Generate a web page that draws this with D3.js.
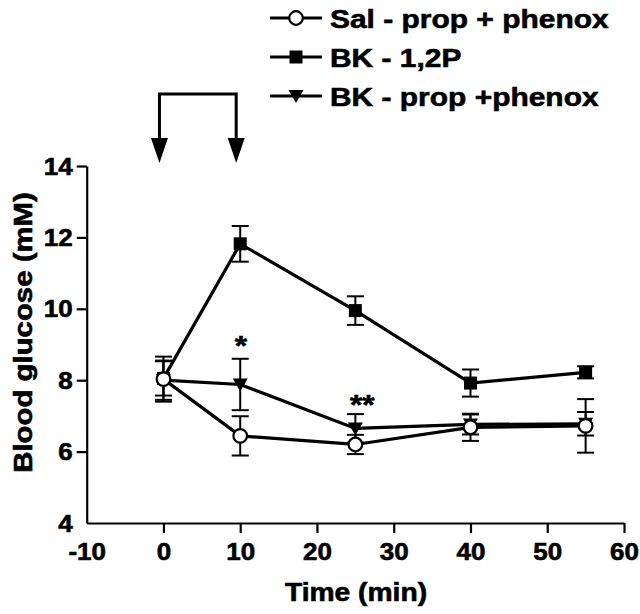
<!DOCTYPE html>
<html><head><meta charset="utf-8">
<script src="https://cdn.jsdelivr.net/npm/d3@7"></script>
<style>body{margin:0;background:#fff}svg{display:block}text{font-family:"Liberation Sans",Arial,sans-serif;font-weight:bold;fill:#000;stroke:#000;stroke-width:0.6px}</style>
</head><body>
<script>
const times = [0, 10, 25, 40, 55];
const salMean = [8.03, 6.44, 6.2, 6.68, 6.72];
const salErr  = [0.63, 0.55, 0.27, 0.38, 0.75];
const bk12Mean = [8.05, 11.82, 9.95, 7.92, 8.22];
const bk12Err  = [0.48, 0.5, 0.4, 0.38, 0.17];
const bkpMean = [8.0, 7.88, 6.65, 6.76, 6.78];
const bkpErr  = [0.55, 0.72, 0.4, 0.28, 0.33];
const seriesNames = ["Sal - prop + phenox", "BK - 1,2P", "BK - prop +phenox"];
const xTicks = [-10, 0, 10, 20, 30, 40, 50, 60];
const yTicks = [4, 6, 8, 10, 12, 14];
const arrowTimes = [0, 10];
const stars = [{t:10.1, v:8.70, s:"*"}, {t:25.9, v:7.05, s:"**"}];

const W = 640, H = 614, SX = 1.13;
const svg = d3.select("body").append("svg").attr("width", W).attr("height", H);
const x = d3.scaleLinear().domain([-10, 60]).range([86.7, 624]);
const y = d3.scaleLinear().domain([4, 14]).range([523, 166]);

function label(g, px, py, txt, size, anchor, rot) {
  return g.append("text")
    .attr("transform", `translate(${px},${py})` + (rot ? ` rotate(${rot})` : "") + ` scale(${SX},1)`)
    .attr("text-anchor", anchor).style("font-size", size + "px").text(txt);
}

// axes
const xAxis = svg.append("g").attr("transform", `translate(0,${y(4)})`)
  .call(d3.axisBottom(x).tickValues(xTicks).tickFormat(d => String(d)).tickSize(10).tickSizeOuter(0));
const yAxis = svg.append("g").attr("transform", `translate(${x(-10)},0)`)
  .call(d3.axisLeft(y).tickValues(yTicks).tickFormat(d => String(d)).tickSize(10).tickSizeOuter(0));
[xAxis, yAxis].forEach(a => {
  a.select(".domain").attr("stroke", "#000").attr("stroke-width", 2.2);
  a.selectAll(".tick line").attr("stroke", "#000").attr("stroke-width", 2.2);
  a.selectAll(".tick text").remove();
});
xAxis.selectAll(".tick").each(function(d) { label(d3.select(this), 0, 37, String(d), 23, "middle"); });
yAxis.selectAll(".tick").each(function(d) { label(d3.select(this), -14, 8, String(d), 23, "end"); });
xAxis.selectAll(".tick").filter(d => d === -10).select("line").remove();
yAxis.selectAll(".tick").filter(d => d === 4).select("line").remove();

label(svg, 356, 601, "Time (min)", 25, "middle");
label(svg, 32, (197 + 468) / 2, "Blood glucose (mM)", 26, "middle", -90);

// arrows
const arrowY0 = 94, arrowY1 = 163;
const ax = arrowTimes.map(t => x(t) - 4);
svg.append("path").attr("d", `M${ax[0]},${arrowY1-20}V${arrowY0}H${ax[1]}V${arrowY1-20}`)
  .attr("fill", "none").attr("stroke", "#000").attr("stroke-width", 3);
ax.forEach(px => svg.append("path")
  .attr("d", `M${px-8.5},${arrowY1-25}L${px+8.5},${arrowY1-25}L${px},${arrowY1}Z`).attr("fill", "#000"));

// series
const data = [
  {name: seriesNames[0], mean: salMean, err: salErr, sym: "circle"},
  {name: seriesNames[1], mean: bk12Mean, err: bk12Err, sym: "square"},
  {name: seriesNames[2], mean: bkpMean, err: bkpErr, sym: "tri"}
];
const line = d3.line().x(d => x(d.t)).y(d => y(d.v));
function marker(g, sym, cx, cy) {
  if (sym === "circle") g.append("circle").attr("cx", cx).attr("cy", cy).attr("r", 6.8).attr("fill", "#fff").attr("stroke", "#000").attr("stroke-width", 2.2);
  else if (sym === "square") g.append("rect").attr("x", cx-6.5).attr("y", cy-6.5).attr("width", 13).attr("height", 13).attr("fill", "#000");
  else g.append("path").attr("d", `M${cx-7.5},${cy-6}L${cx+7.5},${cy-6}L${cx},${cy+7}Z`).attr("fill", "#000");
}
data.forEach(s => {
  const g = svg.append("g");
  times.forEach((t, i) => {
    const px = x(t), top = y(s.mean[i] + s.err[i]), bot = y(s.mean[i] - s.err[i]);
    g.append("line").attr("x1", px).attr("x2", px).attr("y1", top).attr("y2", bot).attr("stroke", "#000").attr("stroke-width", 2);
    [top, bot].forEach(yy => g.append("line").attr("x1", px-8.5).attr("x2", px+8.5).attr("y1", yy).attr("y2", yy).attr("stroke", "#000").attr("stroke-width", 2));
  });
});
data.forEach(s => {
  svg.append("path").datum(times.map((t, i) => ({t, v: s.mean[i]})))
    .attr("d", line).attr("fill", "none").attr("stroke", "#000").attr("stroke-width", 3.2);
});
[data[1], data[2], data[0]].forEach(s => {
  const g = svg.append("g");
  times.forEach((t, i) => marker(g, s.sym, x(t), y(s.mean[i])));
});

stars.forEach(st => label(svg, x(st.t), y(st.v), st.s, 28, "middle"));

// legend
const legY = [18, 57, 96];
data.forEach((s, i) => {
  const g = svg.append("g");
  g.append("line").attr("x1", 270).attr("x2", 322).attr("y1", legY[i]).attr("y2", legY[i]).attr("stroke", "#000").attr("stroke-width", 3);
  marker(g, s.sym, 296, legY[i]);
  label(g, 330, legY[i] + 9.5, s.name, 26.5, "start");
});
</script>
</body></html>
